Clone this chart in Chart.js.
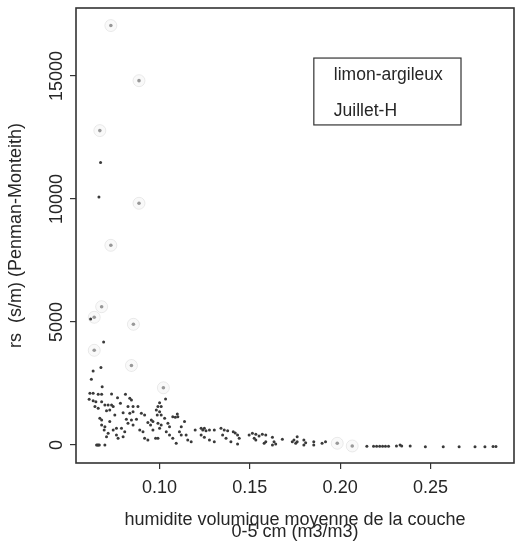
<!DOCTYPE html>
<html>
<head>
<meta charset="utf-8">
<script src="https://cdn.jsdelivr.net/npm/chart.js@4/dist/chart.umd.min.js"></script>
<style>
  html, body { margin: 0; padding: 0; background: #ffffff; }
  #wrap { width: 521px; height: 548px; }
</style>
</head>
<body>
<div id="wrap"><canvas id="c" width="521" height="548"></canvas></div>
<script>
// Surface soil moisture (0-5 cm, m3/m3) against surface resistance rs (s/m)
const darkMoisture = [
  0.0673, 0.0664, 0.0618, 0.0690, 0.0675, 0.0632, 0.0622, 0.0682, 0.1033, 0.0614,
  0.0632, 0.0660, 0.0679, 0.0734, 0.0767, 0.0811, 0.0610, 0.0632, 0.0647, 0.0679,
  0.0697, 0.0715, 0.0734, 0.0743, 0.0642, 0.0660, 0.0835, 0.0844, 0.0783, 0.0825,
  0.0853, 0.0880, 0.0724, 0.0706, 0.0798, 0.0835, 0.0853, 0.0752, 0.0899, 0.0917,
  0.0669, 0.0679, 0.0816, 0.0844, 0.0872, 0.0954, 0.0963, 0.0724, 0.0935, 0.0950,
  0.0825, 0.0853, 0.0679, 0.0697, 0.0693, 0.0789, 0.0743, 0.0761, 0.0963, 0.0890,
  0.0908, 0.0807, 0.0715, 0.0706, 0.0761, 0.0770, 0.0798, 0.0917, 0.0935, 0.0651,
  0.0656, 0.0661, 0.0666, 0.0697, 0.1000, 0.0991, 0.1009, 0.0982, 0.1000, 0.0987,
  0.1009, 0.1028, 0.0991, 0.1009, 0.1000, 0.1073, 0.1087, 0.1101, 0.1098, 0.1138,
  0.1046, 0.1055, 0.1120, 0.0991, 0.0978, 0.1037, 0.1055, 0.1110, 0.1120, 0.1073,
  0.1092, 0.1147, 0.1156, 0.1175, 0.1197, 0.1230, 0.1239, 0.1248, 0.1257, 0.1276,
  0.1303, 0.1230, 0.1248, 0.1276, 0.1303, 0.1340, 0.1358, 0.1377, 0.1349, 0.1368,
  0.1395, 0.1408, 0.1419, 0.1432, 0.1441, 0.1432, 0.1496, 0.1514, 0.1533, 0.1551,
  0.1569, 0.1588, 0.1524, 0.1533, 0.1579, 0.1588, 0.1625, 0.1634, 0.1625, 0.1643,
  0.1680, 0.1735, 0.1744, 0.1762, 0.1762, 0.1754, 0.1799, 0.1809, 0.1799, 0.1854,
  0.1854, 0.1900, 0.1919, 0.2148, 0.2185, 0.2202, 0.2219, 0.2235, 0.2251, 0.2268,
  0.2312, 0.2332, 0.2341, 0.2388, 0.2472, 0.2571, 0.2659, 0.2747, 0.2802, 0.2847,
  0.2863
];
const darkRs = [
  11480, 10080, 5120, 4190, 3150, 3010, 2670, 2370, 1870, 2100,
  2100, 2060, 2060, 2070, 1920, 2060, 1860, 1800, 1760, 1760,
  1630, 1630, 1630, 1560, 1560, 1490, 1900, 1830, 1700, 1560,
  1560, 1560, 1420, 1390, 1310, 1290, 1350, 1220, 1290, 1220,
  1090, 1020, 1050, 1020, 1050, 1020, 950, 950, 910, 810,
  880, 810, 810, 740, 610, 680, 610, 680, 610, 610,
  540, 540, 480, 340, 410, 270, 340, 270, 200, 0,
  0, 0, 0, 0, 1720, 1560, 1560, 1420, 1350, 1220,
  1220, 1090, 880, 810, 680, 1150, 1130, 1150, 1260, 950,
  880, 740, 740, 270, 270, 540, 410, 540, 410, 270,
  70, 410, 200, 130, 610, 680, 610, 680, 580, 610,
  610, 410, 310, 200, 130, 680, 610, 580, 410, 270,
  130, 540, 490, 410, 270, 40, 410, 480, 440, 370,
  440, 410, 270, 200, 70, 130, 310, 130, 0, 40,
  230, 130, 200, 340, 130, 70, 200, 90, 0, 130,
  0, 70, 130, -50, -50, -50, -50, -50, -50, -50,
  -40, 0, -40, -40, -70, -70, -70, -70, -70, -60,
  -60
];
// Faded (grey) observations
const greyMoisture = [0.0730, 0.0886, 0.0669, 0.0886, 0.0730, 0.0679, 0.0638, 0.0855, 0.0638, 0.0844, 0.1021, 0.1984, 0.2067];
const greyRs = [17050, 14810, 12780, 9825, 8117, 5622, 5191, 4906, 3849, 3232, 2325, 70, -40];

const xTickValues = [0.10, 0.15, 0.20, 0.25];
const yTickValues = [0, 5000, 10000, 15000];
const xTitle = ['humidite volumique moyenne de la couche', '0-5 cm (m3/m3)'];
const yTitle = 'rs  (s/m) (Penman-Monteith)';
const legendLines = ['limon-argileux', 'Juillet-H'];

const FONT = "'Liberation Sans', Arial, Helvetica, sans-serif";
const INK = '#262626';

const toPoints = (xs, ys) => xs.map((x, i) => ({ x: x, y: ys[i] }));

// Box around the plotting region
const framePlugin = {
  id: 'frame',
  afterDatasetsDraw(chart) {
    const a = chart.chartArea, ctx = chart.ctx;
    ctx.save();
    ctx.strokeStyle = '#333';
    ctx.lineWidth = 1.6;
    ctx.strokeRect(a.left, a.top, a.right - a.left, a.bottom - a.top);
    ctx.restore();
  }
};

// Boxed annotation in the upper right
const notePlugin = {
  id: 'note',
  afterDraw(chart) {
    const a = chart.chartArea, ctx = chart.ctx;
    const w = a.right - a.left, h = a.bottom - a.top;
    const bx = a.left + 0.543 * w, by = a.top + 0.110 * h;
    const bw = 0.336 * w, bh = 0.147 * h;
    ctx.save();
    ctx.strokeStyle = '#333';
    ctx.lineWidth = 1.2;
    ctx.strokeRect(bx, by, bw, bh);
    ctx.fillStyle = INK;
    ctx.font = '17.5px ' + FONT;
    ctx.textBaseline = 'middle';
    ctx.textAlign = 'left';
    legendLines.forEach((t, i) => {
      ctx.fillText(t, bx + 20, by + 17 + i * 36);
    });
    ctx.restore();
  }
};

new Chart(document.getElementById('c'), {
  type: 'scatter',
  data: {
    datasets: [
      {
        data: toPoints(greyMoisture, greyRs),
        pointRadius: 6,
        backgroundColor: 'rgba(0,0,0,0.025)',
        borderColor: 'rgba(0,0,0,0.08)',
        borderWidth: 1
      },
      {
        data: toPoints(greyMoisture, greyRs),
        pointRadius: 1.8,
        backgroundColor: '#9c9c9c',
        borderWidth: 0
      },
      {
        data: toPoints(darkMoisture, darkRs),
        pointRadius: 1.5,
        backgroundColor: '#3a3a3a',
        borderWidth: 0
      }
    ]
  },
  options: {
    responsive: false,
    animation: false,
    events: [],
    layout: { padding: { top: 8, right: 5, left: 0, bottom: 0 } },
    plugins: { legend: { display: false }, tooltip: { enabled: false } },
    scales: {
      x: {
        type: 'linear',
        min: 0.0537,
        max: 0.2963,
        afterBuildTicks: s => { s.ticks = xTickValues.map(v => ({ value: v })); },
        afterFit: s => { s.height = 85; },
        border: { display: false },
        grid: { drawOnChartArea: false, drawTicks: true, tickLength: 6, color: '#333', lineWidth: 1.2 },
        ticks: {
          padding: 8,
          color: INK,
          font: { family: FONT, size: 18 },
          maxRotation: 0,
          callback: v => Number(v).toFixed(2)
        },
        title: {
          display: true,
          text: xTitle,
          color: INK,
          font: { family: FONT, size: 18, lineHeight: 0.667 },
          padding: { top: 0, bottom: 10 }
        }
      },
      y: {
        type: 'linear',
        min: -732,
        max: 17764,
        afterBuildTicks: s => { s.ticks = yTickValues.map(v => ({ value: v })); },
        afterFit: s => { s.width = 76; },
        border: { display: false },
        grid: { drawOnChartArea: false, drawTicks: true, tickLength: 6, color: '#333', lineWidth: 1.2 },
        ticks: {
          padding: -12,
          color: INK,
          font: { family: FONT, size: 18 },
          minRotation: 90,
          maxRotation: 90,
          crossAlign: 'center',
          callback: v => String(v)
        },
        title: {
          display: true,
          text: yTitle,
          color: INK,
          font: { family: FONT, size: 18 },
          padding: { top: 5, bottom: 0 }
        }
      }
    }
  },
  plugins: [framePlugin, notePlugin]
});
</script>
</body>
</html>
